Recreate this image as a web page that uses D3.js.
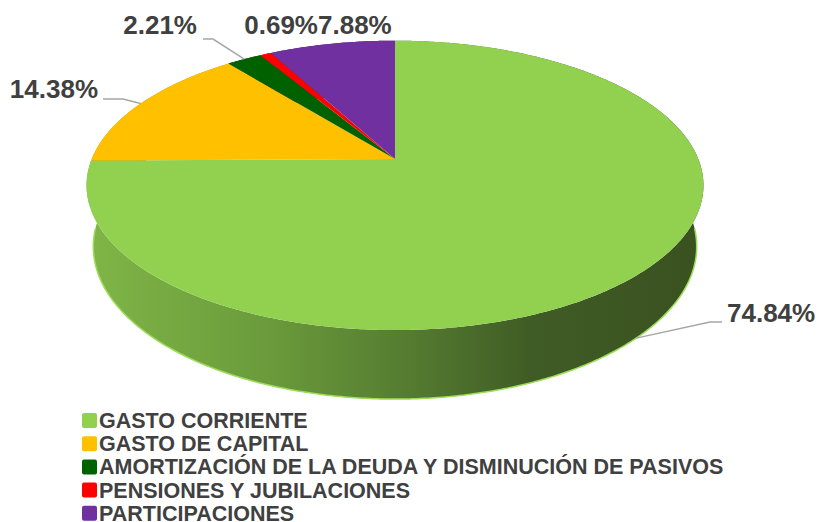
<!DOCTYPE html>
<html>
<head>
<meta charset="utf-8">
<script src="https://cdn.jsdelivr.net/npm/d3@7"></script>
<style>
  body { margin: 0; background: #fff; }
  svg { display: block; font-family: "Liberation Sans", Arial, sans-serif; }
</style>
</head>
<body>
<div id="chart-area"></div>
<script>
const categories = [
  "GASTO CORRIENTE",
  "GASTO DE CAPITAL",
  "AMORTIZACIÓN DE LA DEUDA Y DISMINUCIÓN DE PASIVOS",
  "PENSIONES Y JUBILACIONES",
  "PARTICIPACIONES"
];
const values = [74.84, 14.38, 2.21, 0.69, 7.88];
const valueLabels = ["74.84%", "14.38%", "2.21%", "0.69%", "7.88%"];
const sliceColors = ["#92D050", "#FFC000", "#006100", "#FF0000", "#7030A0"];
const wallColors = ["url(#wallGreen)", "#C99800", "#004a00", "#c00000", "#55247a"];

const chartSize = { width: 819, height: 522 };

// perspective 3d pie setup (radius = 1 in world units)
const cx = 395, cy = 159;
const scale = 303.3;
const sinE = 0.4613, cosE = Math.sqrt(1 - sinE * sinE);
const dist = 4.87;
const thick = 0.229;

const proj = (a, r, z) => {
  const x = r * Math.sin(a), y = r * Math.cos(a);
  const v = y * sinE + z * cosE;
  const w = y * cosE - z * sinE;
  const f = 1 / (1 + w / dist);
  return [cx + scale * x * f, cy - scale * v * f];
};

const rim = (a0, a1, z) => {
  const n = Math.max(2, Math.ceil(Math.abs(a1 - a0) / 0.01));
  return d3.range(n + 1).map(i => proj(a0 + (a1 - a0) * i / n, 1, z));
};

const pie = d3.pie().sort(null).value(d => d.value);
const arcs = pie(categories.map((c, i) => ({ name: c, value: values[i], i })));

const svg = d3.select("#chart-area")
  .append("svg")
  .attr("width", chartSize.width)
  .attr("height", chartSize.height);

const grad = svg.append("defs").append("linearGradient")
  .attr("id", "wallGreen")
  .attr("gradientUnits", "userSpaceOnUse")
  .attr("x1", 86).attr("x2", 703).attr("y1", 0).attr("y2", 0);
[[0, "#80B647"], [0.3, "#6A9A3B"], [0.52, "#557C31"], [0.72, "#405C25"], [1, "#3A5120"]]
  .forEach(([o, c]) => grad.append("stop").attr("offset", o).attr("stop-color", c));

const line = d3.line();

// walls: back slices first, big front slice last
const wallOrder = arcs.slice(1).concat([arcs[0]]);
svg.append("g").selectAll("path")
  .data(wallOrder)
  .join("path")
  .attr("d", d => {
    const top = rim(d.startAngle, d.endAngle, 0);
    const bottom = rim(d.startAngle, d.endAngle, -thick).reverse();
    return line(top.concat(bottom)) + "Z";
  })
  .attr("fill", d => wallColors[d.data.i]);

// light edge along the bottom of the front wall
svg.append("path")
  .attr("d", line(rim(Math.PI * 0.52, Math.PI * 1.48, -thick)))
  .attr("fill", "none")
  .attr("stroke", "#9BDC58")
  .attr("stroke-width", 1.5);

// tops
svg.append("g").selectAll("path")
  .data(arcs)
  .join("path")
  .attr("d", d => line([[cx, cy]].concat(rim(d.startAngle, d.endAngle, 0))) + "Z")
  .attr("fill", d => sliceColors[d.data.i]);

// data labels
const mid = d => (d.startAngle + d.endAngle) / 2;
const labelLayout = [
  { x: 727, y: 322, anchor: "start", z: -thick, elbow: [[710, 322], [722, 322]] },
  { x: 98, y: 98, anchor: "end", z: 0, elbow: [[123, 99], [103, 99]] },
  { x: 197, y: 34, anchor: "end", z: 0, elbow: [[213, 39], [203, 39]] },
  { x: 318, y: 34, anchor: "end", z: 0, elbow: null },
  { x: 318, y: 34, anchor: "start", z: 0, elbow: null }
];

const labels = svg.append("g");
arcs.forEach((d, i) => {
  const lay = labelLayout[i];
  if (lay.elbow) {
    const start = proj(mid(d), 1, lay.z);
    labels.append("path")
      .attr("d", line([start].concat(lay.elbow)))
      .attr("fill", "none")
      .attr("stroke", "#A6A6A6")
      .attr("stroke-width", 1.5);
  }
  labels.append("text")
    .attr("x", lay.x)
    .attr("y", lay.y)
    .attr("text-anchor", lay.anchor)
    .attr("font-size", 26)
    .attr("font-weight", "bold")
    .attr("fill", "#404040")
    .text(valueLabels[i]);
});

// legend
const legend = svg.append("g").attr("transform", "translate(82,413)");
const rows = legend.selectAll("g")
  .data(categories)
  .join("g")
  .attr("transform", (d, i) => `translate(0,${i * 23.2})`);
rows.append("rect")
  .attr("width", 15).attr("height", 15)
  .attr("rx", 2)
  .attr("fill", (d, i) => sliceColors[i]);
rows.append("text")
  .attr("x", 17)
  .attr("y", 15)
  .attr("font-size", 21.5)
  .attr("font-weight", "bold")
  .attr("fill", "#404040")
  .text(d => d);
</script>
</body>
</html>
